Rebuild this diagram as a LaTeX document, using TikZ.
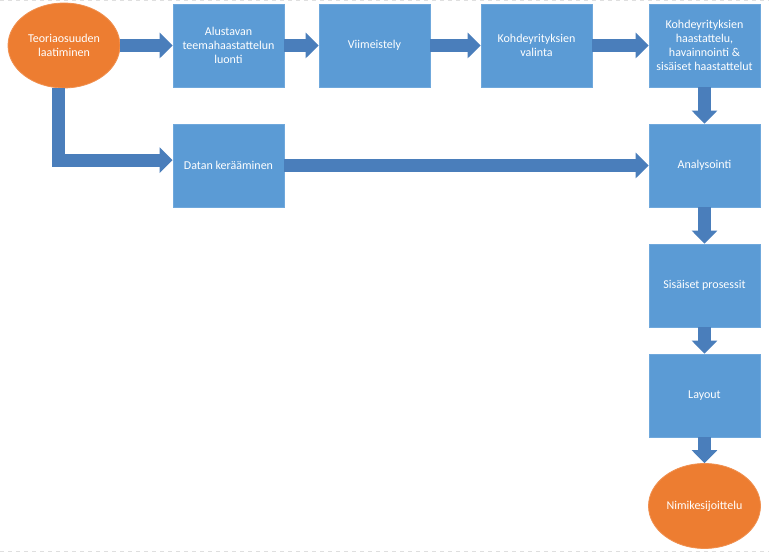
\documentclass[tikz,border=0pt]{standalone}
\usepackage{fontspec}
\setmainfont{Carlito}
\usetikzlibrary{shapes.geometric, arrows.meta, positioning}
\definecolor{boxblue}{HTML}{5B9BD5}
\definecolor{boxedge}{HTML}{6FA8DC}
\definecolor{arrowblue}{HTML}{4A7EBB}
\definecolor{startorange}{HTML}{ED7D31}
\tikzstyle{phase} = [rectangle, minimum width=83.25pt, minimum height=62.25pt, inner sep=0pt, align=center, text=white, draw=boxedge, line width=0.6pt, fill=boxblue, font=\fontsize{9}{10.6}\selectfont]
\tikzstyle{terminal} = [ellipse, minimum width=84pt, minimum height=63.75pt, inner sep=0pt, align=center, text=white, draw=startorange!85!white, line width=0.6pt, fill=startorange, font=\fontsize{9}{10.6}\selectfont]
\tikzstyle{flow} = [draw=arrowblue, line width=9.75pt, -{Triangle[width=18.75pt, length=9.75pt]}]

\begin{document}
\begin{tikzpicture}[x=0.75pt, y=-0.75pt]
\useasboundingbox (0,0) rectangle (769,555);
\draw[gray!25, dashed, line width=0.75pt] (0,0.5) -- (769,0.5);
\draw[gray!25, dashed, line width=0.75pt] (0,552) -- (769,552);
\node (teoria) [terminal] at (64,45.5) {Teoriaosuuden\\laatiminen};
\node (alustavan) [phase] at (228.5,45.5) {Alustavan\\teemahaastattelun\\luonti};
\node (viimeistely) [phase] at (374.5,45.5) {Viimeistely};
\node (valinta) [phase] at (536.5,45.5) {Kohdeyrityksien\\valinta};
\node (haastattelu) [phase] at (704.5,45.5) {Kohdeyrityksien\\haastattelu,\\havainnointi \&\\sisäiset haastattelut};
\node (datan) [phase] at (228.5,165.5) {Datan kerääminen};
\node (analysointi) [phase] at (704.5,165.5) {Analysointi};
\node (sisaiset) [phase] at (704.5,285.5) {Sisäiset prosessit};
\node (layout) [phase] at (704.5,395.5) {Layout};
\node (nimike) [terminal] at (704.5,506) {Nimikesijoittelu};
\draw[flow] (teoria) -- (alustavan);
\draw[flow] (alustavan) -- (viimeistely);
\draw[flow] (viimeistely) -- (valinta);
\draw[flow] (valinta) -- (haastattelu);
\draw[flow] (haastattelu) -- (analysointi);
\draw[flow] ([xshift=-4.5pt]teoria.south) |- ([yshift=4pt]datan.west);
\draw[flow] (datan) -- (analysointi);
\draw[flow] (analysointi) -- (sisaiset);
\draw[flow] (sisaiset) -- (layout);
\draw[flow] (layout) -- (nimike);
\end{tikzpicture}
\end{document}
